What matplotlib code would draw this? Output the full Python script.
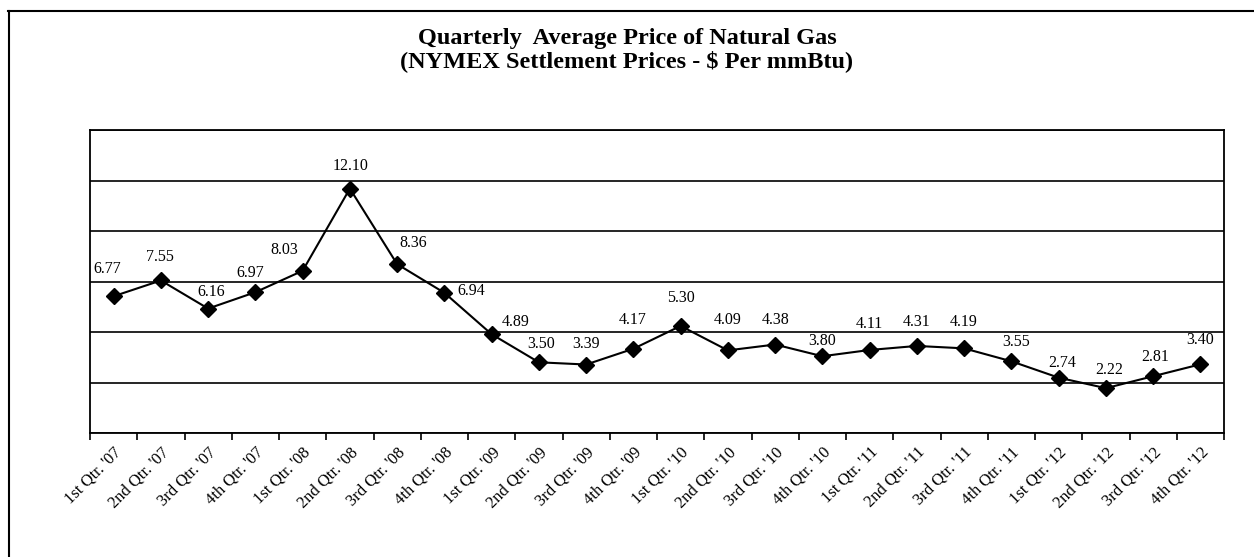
import matplotlib.pyplot as plt
from matplotlib.lines import Line2D
from matplotlib.ticker import FixedLocator, MultipleLocator

# quarterly NYMEX settlement averages, $ per mmBtu
quarters = [
    "1st Qtr. '07", "2nd Qtr. '07", "3rd Qtr. '07", "4th Qtr. '07",
    "1st Qtr. '08", "2nd Qtr. '08", "3rd Qtr. '08", "4th Qtr. '08",
    "1st Qtr. '09", "2nd Qtr. '09", "3rd Qtr. '09", "4th Qtr. '09",
    "1st Qtr. '10", "2nd Qtr. '10", "3rd Qtr. '10", "4th Qtr. '10",
    "1st Qtr. '11", "2nd Qtr. '11", "3rd Qtr. '11", "4th Qtr. '11",
    "1st Qtr. '12", "2nd Qtr. '12", "3rd Qtr. '12", "4th Qtr. '12",
]
prices = [6.77, 7.55, 6.16, 6.97, 8.03, 12.10, 8.36, 6.94,
          4.89, 3.50, 3.39, 4.17, 5.30, 4.09, 4.38, 3.80,
          4.11, 4.31, 4.19, 3.55, 2.74, 2.22, 2.81, 3.40]

# label nudges in pixels (dx, dy) relative to each marker
label_dx = [-6, -1, 3, -5, -18, 1, 16, 27, 24, 2, 0, -1,
            0, 0, 0, 0, 0, 0, 0, 5, 4, 3, 2, 0]
label_dy = [27, 23, 17, 19, 21, 23, 21, 2, 12, 18, 21, 29,
            28, 30, 25, 15, 26, 24, 26, 19, 15, 18, 19, 24]

plt.rcParams["font.family"] = ["Liberation Serif", "DejaVu Serif"]

W, H = 1254, 557
fig = plt.figure(figsize=(W / 100, H / 100), dpi=100)

# frame of the page: only top and left edges show
fig.lines.append(Line2D([8 / W, 1.0], [1 - 11 / H, 1 - 11 / H], transform=fig.transFigure,
                        color="black", linewidth=1.5))
fig.lines.append(Line2D([9 / W, 9 / W], [0.0, 1 - 11 / H], transform=fig.transFigure,
                        color="black", linewidth=1.5))

fig.text(0.5, 1 - 50 / H, "Quarterly  Average Price of Natural Gas\n(NYMEX Settlement Prices - $ Per mmBtu)",
         ha="center", va="center", fontsize=17.5, fontweight="bold", linespacing=1.1)

ax = fig.add_axes([90 / W, 124 / H, 1134 / W, 303 / H])
x = list(range(len(quarters)))
ax.plot(x, prices, color="black", linewidth=1.5, marker="D", markersize=8,
        markerfacecolor="black", markeredgecolor="black", zorder=3)

for i, p in enumerate(prices):
    ax.annotate(f"{p:.2f}", (i, p), xytext=(label_dx[i] * 0.72, label_dy[i] * 0.72),
                textcoords="offset points", ha="center", va="center", fontsize=11.5)

ax.set_xlim(-0.5, len(quarters) - 0.5)
ax.set_ylim(0, 15)
ax.yaxis.set_major_locator(MultipleLocator(2.5))
ax.grid(axis="y", color="black", linewidth=1.2)
ax.set_axisbelow(True)
ax.set_yticklabels([])
ax.tick_params(axis="y", length=0)

ax.set_xticks(x)
ax.set_xticklabels(quarters, rotation=45, ha="right", rotation_mode="anchor", fontsize=12)
ax.tick_params(axis="x", which="major", length=0, pad=8)
ax.xaxis.set_minor_locator(FixedLocator([i - 0.5 for i in range(len(quarters) + 1)]))
ax.tick_params(axis="x", which="minor", length=5, width=1.2, direction="out")

for s in ax.spines.values():
    s.set_linewidth(1.3)

fig.savefig("out.png", dpi=100)
